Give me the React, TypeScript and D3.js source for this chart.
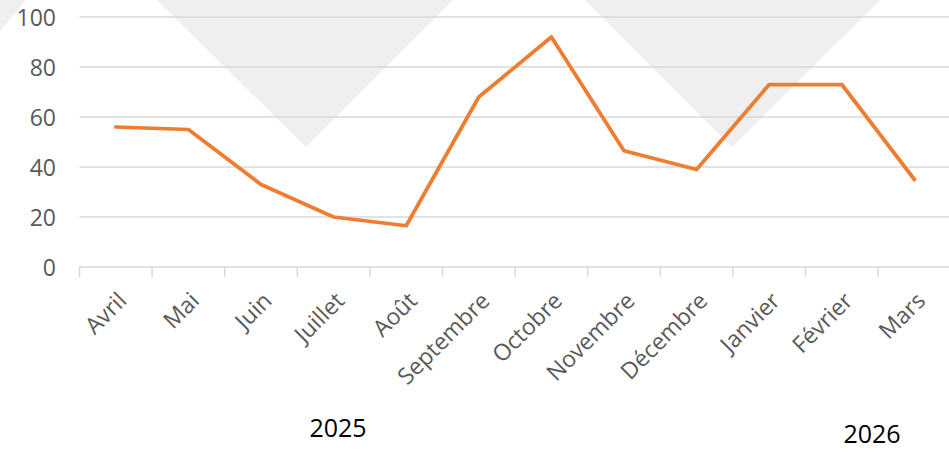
import React from "react";
import * as d3 from "d3";

const months = ["Avril", "Mai", "Juin", "Juillet", "Août", "Septembre", "Octobre", "Novembre", "Décembre", "Janvier", "Février", "Mars"];
const values = [56, 55, 33, 20, 16.5, 68, 92, 46.5, 39, 73, 73, 35];
const yTicks = [0, 20, 40, 60, 80, 100];
const yearLabels = [
  { text: "2025", x: 338, y: 437 },
  { text: "2026", x: 872, y: 443 },
];

const W = 949;
const H = 454;
const FONT = "'Open Sans', 'Noto Sans', sans-serif";

export default function App() {
  const x = d3.scaleBand<string>().domain(months).range([79.5, 79.5 + 12 * 72.6]).paddingInner(0).paddingOuter(0);
  const y = d3.scaleLinear().domain([0, 100]).range([267, 17]);
  const line = d3
    .line<number>()
    .x((_, i) => (x(months[i]) as number) + x.bandwidth() / 2)
    .y((d) => y(d));

  const boundaries = months.map((m) => x(m) as number);
  boundaries.push(x.range()[1]);

  // decorative watermark triangles
  const wm = [
    "0,0 26,0 0,31",
    "157,0 453,0 306,147",
    "585,0 880,0 732,147",
  ];

  return (
    <svg width={W} height={H} style={{ position: "absolute", left: 0, top: 0, background: "#fff" }} fontFamily={FONT}>
      <rect x={0} y={0} width={W} height={H} fill="#fff" />
      {wm.map((p, i) => (
        <polygon key={i} points={p} fill="#efefef" />
      ))}
      {yTicks.map((t) => (
        <g key={t}>
          <line x1={79.5} x2={W} y1={y(t)} y2={y(t)} stroke="#d9d9d9" strokeWidth={1.5} />
          <text x={56} y={y(t) + 8.5} textAnchor="end" fontSize={23} fill="#595959">
            {t}
          </text>
        </g>
      ))}
      {boundaries.map((b, i) => (
        <line key={i} x1={b} x2={b} y1={267} y2={277} stroke="#d9d9d9" strokeWidth={1.5} />
      ))}
      {months.map((m) => {
        const cx = (x(m) as number) + x.bandwidth() / 2;
        return (
          <text
            key={m}
            transform={`translate(${cx - 4},286) rotate(-45)`}
            y={23}
            textAnchor="end"
            fontSize={23}
            fill="#595959"
          >
            {m}
          </text>
        );
      })}
      <path
        d={line(values) || ""}
        fill="none"
        stroke="#ED7D31"
        strokeWidth={3.75}
        strokeLinejoin="round"
        strokeLinecap="round"
      />
      {yearLabels.map((l) => (
        <text key={l.text} x={l.x} y={l.y} textAnchor="middle" fontSize={25} fill="#000">
          {l.text}
        </text>
      ))}
    </svg>
  );
}
